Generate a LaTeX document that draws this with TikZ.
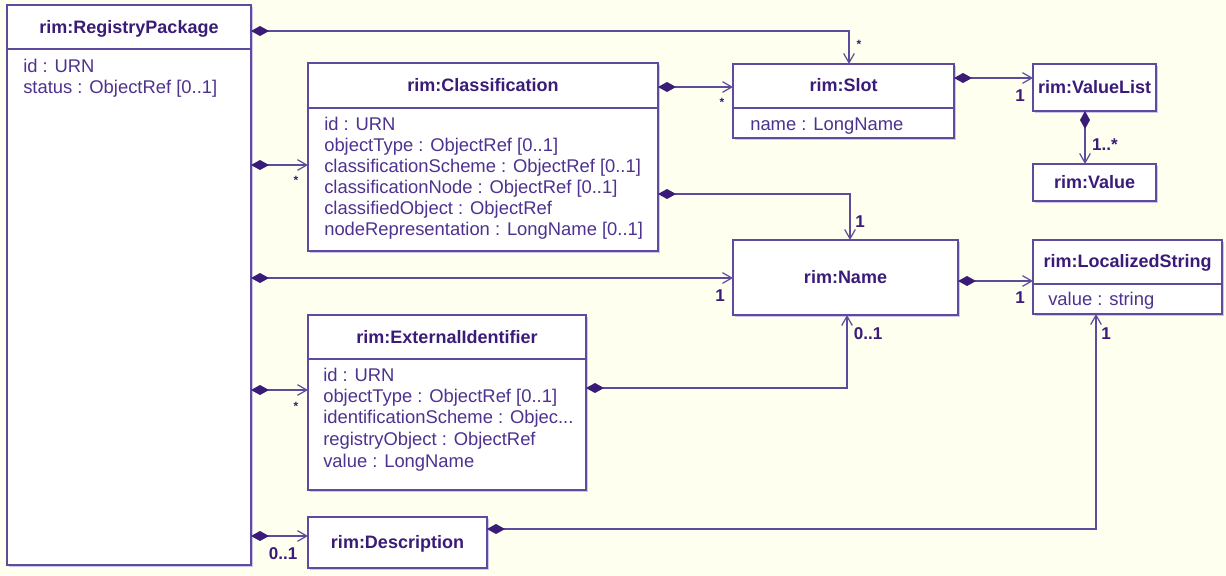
\documentclass[tikz,border=0pt]{standalone}
\usepackage{fontspec}
\setmainfont{Liberation Sans}
\usepackage{tikz}
\usetikzlibrary{arrows.meta}
\usetikzlibrary{shadows}
\definecolor{UmlLine}{HTML}{5F4B9E}
\definecolor{UmlText}{HTML}{4E3290}
\definecolor{UmlDark}{HTML}{3A1C78}
\definecolor{UmlShade}{HTML}{CFC4EA}
\definecolor{UmlBack}{HTML}{FFFFF0}

\begin{document}
\begin{tikzpicture}[x=0.75pt,y=-0.75pt,
    classbox/.style={draw=UmlLine, fill=white, line width=1.4pt, inner sep=0pt, outer sep=0pt, anchor=north west,
      drop shadow={shadow xshift=1.2pt, shadow yshift=-1.2pt, fill=UmlShade, opacity=1}},
    classname/.style={anchor=base, inner sep=0pt, text=UmlDark, font=\bfseries\fontsize{13.5pt}{16pt}\selectfont},
    classattr/.style={anchor=base west, inner sep=0pt, text=UmlText, font=\fontsize{13.8pt}{16pt}\selectfont},
    multlabel/.style={inner sep=0pt, text=UmlDark, font=\bfseries\fontsize{12.8pt}{14pt}\selectfont},
    starlabel/.style={anchor=base, inner sep=0pt, text=UmlDark, font=\bfseries\fontsize{9pt}{10pt}\selectfont},
    divider/.style={draw=UmlLine, line width=1.2pt},
    compo/.style={draw=UmlLine, line width=1.1pt,
      {Diamond[length=13.5pt,width=7.5pt,color=UmlDark]}-{Straight Barb[length=7pt,width=8pt,line width=0.9pt]}}]

  % background
  \fill[UmlBack] (0,0) rectangle (1226,575);

  % classes
  \node[classbox, minimum width=183pt, minimum height=420pt] (pkg) at (7,5) {};
  \node[classbox, minimum width=262.5pt, minimum height=141pt] (cls) at (308,63) {};
  \node[classbox, minimum width=165.75pt, minimum height=55.5pt] (slot) at (733,64) {};
  \node[classbox, minimum width=92.25pt, minimum height=35.25pt] (vlist) at (1033,64) {};
  \node[classbox, minimum width=92.25pt, minimum height=27.75pt] (val) at (1033,164) {};
  \node[classbox, minimum width=168.75pt, minimum height=56.25pt] (name) at (733,240) {};
  \node[classbox, minimum width=141.75pt, minimum height=55.5pt] (lstr) at (1033,240) {};
  \node[classbox, minimum width=208.5pt, minimum height=131.25pt] (extid) at (308,315) {};
  \node[classbox, minimum width=134.25pt, minimum height=38.25pt] (desc) at (308,517) {};

  % compartments
  \draw[divider] (pkg.west |- 0,49) -- (pkg.east |- 0,49);
  \draw[divider] (cls.west |- 0,108) -- (cls.east |- 0,108);
  \draw[divider] (slot.west |- 0,108) -- (slot.east |- 0,108);
  \draw[divider] (lstr.west |- 0,284) -- (lstr.east |- 0,284);
  \draw[divider] (extid.west |- 0,359) -- (extid.east |- 0,359);

  % class names
  \node[classname] (pkgT) at (pkg.center |- 0,33) {rim:RegistryPackage};
  \node[classname] (clsT) at (cls.center |- 0,91) {rim:Classification};
  \node[classname] (slotT) at (slot.center |- 0,91) {rim:Slot};
  \node[classname] (vlistT) at (vlist.center |- 0,93) {rim:ValueList};
  \node[classname] (valT) at (val.center |- 0,188) {rim:Value};
  \node[classname] (nameT) at (name.center |- 0,283) {rim:Name};
  \node[classname] (lstrT) at (lstr.center |- 0,267) {rim:LocalizedString};
  \node[classname] (extidT) at (extid.center |- 0,343) {rim:ExternalIdentifier};
  \node[classname] (descT) at (desc.center |- 0,548) {rim:Description};

  % attributes
  \node[classattr] (pkgA1) at (23,72) {id : URN};
  \node[classattr] (pkgA2) at (23,93) {status : ObjectRef [0..1]};

  \node[classattr] (clsA1) at (324,130) {id : URN};
  \node[classattr] (clsA2) at (324,151) {objectType : ObjectRef [0..1]};
  \node[classattr] (clsA3) at (324,172) {classificationScheme : ObjectRef [0..1]};
  \node[classattr] (clsA4) at (324,193) {classificationNode : ObjectRef [0..1]};
  \node[classattr] (clsA5) at (324,214) {classifiedObject : ObjectRef};
  \node[classattr] (clsA6) at (324,235) {nodeRepresentation : LongName [0..1]};

  \node[classattr] (slotA1) at (750,130) {name : LongName};
  \node[classattr] (lstrA1) at (1048,305) {value : string};

  \node[classattr] (extidA1) at (323,381) {id : URN};
  \node[classattr] (extidA2) at (323,402) {objectType : ObjectRef [0..1]};
  \node[classattr] (extidA3) at (323,423) {identificationScheme : Objec...};
  \node[classattr] (extidA4) at (323,445) {registryObject : ObjectRef};
  \node[classattr] (extidA5) at (323,467) {value : LongName};

  % compositions
  \draw[compo] (pkg.east |- 0,31) -| (slot.north -| 849,0);
  \draw[compo] (cls.east |- 0,87) -- (slot.west |- 0,87);
  \draw[compo] (slot.east |- 0,78) -- (vlist.west |- 0,78);
  \draw[compo] (vlist.south -| 1085,0) -- (val.north -| 1085,0);
  \draw[compo] (pkg.east |- 0,165) -- (cls.west |- 0,165);
  \draw[compo] (cls.east |- 0,194) -| (name.north -| 850,0);
  \draw[compo] (pkg.east |- 0,278) -- (name.west |- 0,278);
  \draw[compo] (name.east |- 0,281) -- (lstr.west |- 0,281);
  \draw[compo] (extid.east |- 0,388) -| (name.south -| 847,0);
  \draw[compo] (pkg.east |- 0,390) -- (extid.west |- 0,390);
  \draw[compo] (pkg.east |- 0,536) -- (desc.west |- 0,536);
  \draw[compo] (desc.east |- 0,529) -| (lstr.south -| 1096,0);

  % multiplicities
  \node[starlabel] (mPkgSlot) at (859,48) {*};
  \node[starlabel] (mClsSlot) at (722,106) {*};
  \node[multlabel] (mSlotList) at (1020,96) {1};
  \node[multlabel] (mListVal) at (1105,145) {1..*};
  \node[starlabel] (mPkgCls) at (296,184) {*};
  \node[multlabel] (mClsName) at (860,222) {1};
  \node[multlabel] (mPkgName) at (720,296) {1};
  \node[multlabel] (mNameStr) at (1020,298) {1};
  \node[multlabel] (mExtName) at (868,334) {0..1};
  \node[starlabel] (mPkgExt) at (296,410) {*};
  \node[multlabel] (mDescStr) at (1106,334) {1};
  \node[multlabel] (mPkgDesc) at (283,554) {0..1};
\end{tikzpicture}
\end{document}
